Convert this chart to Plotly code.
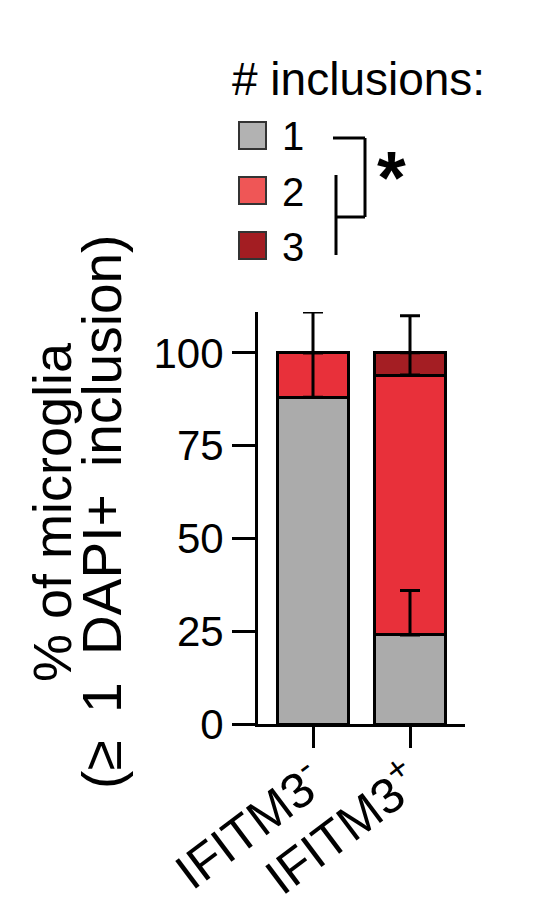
import numpy as np
import plotly.graph_objects as go

# values (% of microglia with >= 1 DAPI+ inclusion)
groups = ["IFITM3<sup>-</sup>", "IFITM3<sup>+</sup>"]
n_labels = ["1", "2", "3"]
pct_1 = [88, 24]
pct_2 = [12, 70]
pct_3 = [0, 6]
err_1 = [23, 12]
err_2 = [0, 16]
err_3 = [0, 0]

bar_colors = ["#ABABAB", "#E8303A", "#A41E23"]
key_colors = ["#B2B2B2", "#EF5656", "#A31D22"]
FONT = "Arial, Liberation Sans, sans-serif"

# plot area in page pixels; the html body adds an 8px margin
OFF = 8
L, R, T, B = 258, 465, 312, 724


def px(x):
    return (x - L) / (R - L)


def py(y):
    return (B - y) / (B - T)


fig = go.Figure()
for name, vals, col in zip(n_labels, [pct_1, pct_2, pct_3], bar_colors):
    fig.add_trace(go.Bar(x=groups, y=vals, name=name, marker_color=col,
                         marker_line=dict(color="black", width=3),
                         showlegend=False, hoverinfo="skip"))

# error bars on top of the stacked segments (only upwards)
tops = np.cumsum([pct_1, pct_2, pct_3], axis=0)
for top, err in zip(tops, [err_1, err_2, err_3]):
    fig.add_trace(go.Scatter(x=groups, y=top, mode="markers",
                             marker=dict(size=1, color="rgba(0,0,0,0)"),
                             error_y=dict(type="data", array=err, arrayminus=[0, 0],
                                          symmetric=False, color="black",
                                          thickness=3, width=10),
                             showlegend=False, hoverinfo="skip"))

shapes = []
annotations = []

# hand made key
annotations.append(dict(text="# inclusions:", x=px(230), y=py(79), xref="paper", yref="paper",
                        xanchor="left", yanchor="middle", showarrow=False,
                        font=dict(size=46, color="black", family=FONT)))
for i, (lab, col) in enumerate(zip(n_labels, key_colors)):
    yc = 135.5 + 55 * i
    shapes.append(dict(type="rect", xref="paper", yref="paper",
                       x0=px(239), x1=px(266), y0=py(yc + 13.5), y1=py(yc - 13.5),
                       fillcolor=col, line=dict(color="#333333", width=2)))
    annotations.append(dict(text=lab, x=px(280), y=py(yc + 1), xref="paper", yref="paper",
                            xanchor="left", yanchor="middle", showarrow=False,
                            font=dict(size=40, color="black", family=FONT)))

# significance bracket
for x0, y0, x1, y1 in [(333, 138, 365, 138), (365, 138, 365, 217),
                       (365, 217, 336, 217), (336, 175, 336, 255)]:
    shapes.append(dict(type="line", xref="paper", yref="paper",
                       x0=px(x0), y0=py(y0), x1=px(x1), y1=py(y1),
                       line=dict(color="black", width=3)))
annotations.append(dict(text="<b>*</b>", x=px(391), y=py(178), xref="paper", yref="paper",
                        xanchor="center", yanchor="middle", showarrow=False,
                        font=dict(size=74, color="black", family=FONT)))

# y title, two lines with tight leading
for txt, xc, fs in [("% of microglia", 52, 54),
                    ("(≥\u20021\u2002DAPI+\u2002inclusion)", 102, 55)]:
    annotations.append(dict(text=txt, x=px(xc), y=py(512), xref="paper", yref="paper",
                            xanchor="center", yanchor="middle", textangle=-90,
                            showarrow=False, font=dict(size=fs, color="black", family=FONT)))

fig.update_layout(
    barmode="stack",
    bargap=0.27,
    width=550, height=915,
    margin=dict(l=L - OFF, r=550 - R + OFF, t=T - OFF, b=915 - B + OFF),
    paper_bgcolor="white", plot_bgcolor="white",
    font=dict(family=FONT, color="black"),
    shapes=shapes,
    annotations=annotations,
)
fig.update_xaxes(range=[-0.567, 1.567], showline=True, linecolor="black", linewidth=3,
                 ticks="outside", ticklen=21, tickwidth=3, tickcolor="black",
                 tickangle=-37, tickfont=dict(size=50), ticklabelstandoff=-14,
                 showgrid=False, automargin=False)
fig.update_yaxes(range=[0, 111], showline=True, linecolor="black", linewidth=3,
                 ticks="outside", ticklen=23, tickwidth=3, tickcolor="black",
                 tickvals=[0, 25, 50, 75, 100], tickfont=dict(size=42),
                 showgrid=False, zeroline=False, automargin=False)

fig.write_html("out.html")
